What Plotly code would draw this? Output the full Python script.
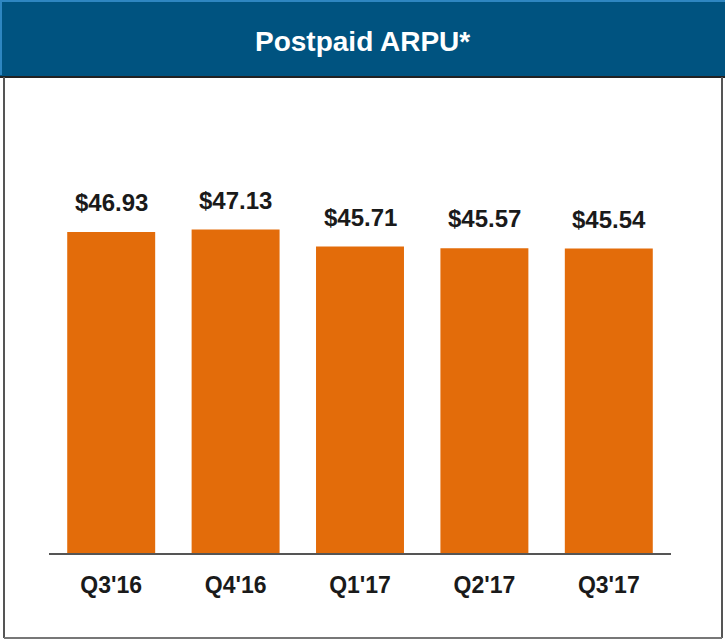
import plotly.graph_objects as go

W, H = 725, 641

categories = ["Q3'16", "Q4'16", "Q1'17", "Q2'17", "Q3'17"]
arpu = [46.93, 47.13, 45.71, 45.57, 45.54]
value_labels = ["$46.93", "$47.13", "$45.71", "$45.57", "$45.54"]
title_text = "Postpaid ARPU*"

FONT = "Liberation Sans, Arial, sans-serif"
BAR_COLOR = "#E36C0A"
HEADER_COLOR = "#005380"

def px_x(px):
    return px / W

def px_y(py):
    return 1 - py / H

fig = go.Figure()
fig.add_trace(go.Bar(
    x=categories, y=arpu,
    marker=dict(color=BAR_COLOR, line=dict(width=0)),
    hoverinfo="skip",
))

for c, v, t in zip(categories, arpu, value_labels):
    fig.add_annotation(
        x=c, y=v, xref="x", yref="y", text=t, showarrow=False,
        yanchor="bottom", yshift=14,
        font=dict(family=FONT, size=24, color="#1a1a1a", weight="bold"),
    )

shapes = [
    # header
    dict(type="rect", xref="paper", yref="paper", x0=0, x1=1, y0=px_y(77), y1=1,
         fillcolor=HEADER_COLOR, line=dict(width=0), layer="below"),
    dict(type="line", xref="paper", yref="paper", x0=0, x1=1, y0=px_y(1), y1=px_y(1),
         line=dict(color="#2E86C1", width=2)),
    dict(type="line", xref="paper", yref="paper", x0=px_x(1), x1=px_x(1), y0=px_y(0), y1=px_y(75),
         line=dict(color="#2E86C1", width=2)),
    dict(type="line", xref="paper", yref="paper", x0=0, x1=1, y0=px_y(77), y1=px_y(77),
         line=dict(color="#222222", width=2)),
    # frame
    dict(type="line", xref="paper", yref="paper", x0=px_x(4), x1=px_x(4), y0=px_y(77), y1=px_y(638),
         line=dict(color="#555555", width=2)),
    dict(type="line", xref="paper", yref="paper", x0=px_x(722), x1=px_x(722), y0=px_y(77), y1=px_y(638),
         line=dict(color="#555555", width=2)),
    dict(type="line", xref="paper", yref="paper", x0=px_x(4), x1=px_x(722), y0=px_y(638), y1=px_y(638),
         line=dict(color="#777777", width=2)),
]

fig.add_annotation(
    x=0.5, y=px_y(42), xref="paper", yref="paper", text=title_text, showarrow=False,
    xanchor="center", yanchor="middle",
    font=dict(family=FONT, size=28, color="white", weight="bold"),
)

fig.update_layout(
    width=W, height=H,
    margin=dict(l=0, r=0, t=0, b=0),
    paper_bgcolor="white", plot_bgcolor="white",
    showlegend=False,
    bargap=0.293,
    shapes=shapes,
    xaxis=dict(
        domain=[px_x(49), px_x(671)],
        showline=True, linecolor="#555555", linewidth=2,
        ticks="outside", ticklen=10, tickcolor="rgba(0,0,0,0)",
        tickfont=dict(family=FONT, size=23, color="#1a1a1a", weight="bold"),
        showgrid=False, zeroline=False, fixedrange=True,
    ),
    yaxis=dict(
        domain=[px_y(553), px_y(100)],
        range=[20, 58],
        visible=False, showgrid=False, zeroline=False, fixedrange=True,
    ),
)

fig.write_html(
    "out.html",
    config={"displayModeBar": False},
    post_script="document.body.style.margin='0';document.body.style.overflow='hidden';",
)
